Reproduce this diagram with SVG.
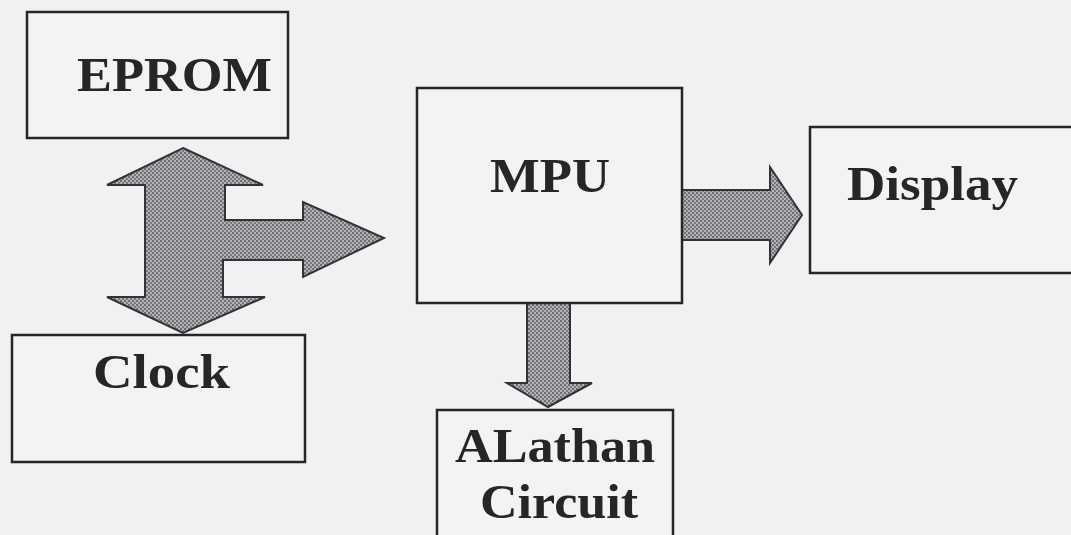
<svg xmlns="http://www.w3.org/2000/svg" width="1071" height="535" viewBox="0 0 1071 535">
<style>
.box{fill:#f4f2f4;stroke:#262626;stroke-width:2.5}
.lbl{font-family:"Liberation Serif","Times New Roman",serif;font-weight:bold;fill:#262626;font-size:48px}
.arr{fill:url(#ht);stroke:#333;stroke-width:2;stroke-linejoin:miter}
</style>
<defs>
<pattern id="ht" width="4" height="4" patternUnits="userSpaceOnUse">
<rect width="4" height="4" fill="#b4b2b6"/>
<rect x="0" y="0" width="2" height="2" fill="#6e6c70"/>
<rect x="2" y="2" width="2" height="2" fill="#7a787c"/>
</pattern>
</defs>
<rect width="1071" height="535" fill="#f2f0f2"/>
<g id="connectors">
<path class="arr" d="M183,148 L263,185 L225,185 L225,220 L303,220 L303,202 L384,238 L303,277 L303,260 L223,260 L223,297 L265,297 L183,333 L107,297 L145,297 L145,185 L107,185 Z"/>
<path class="arr" d="M682,190 L770,190 L770,167 L802,215 L770,263 L770,240 L682,240 Z"/>
<path class="arr" d="M527,303 L570,303 L570,383 L592,383 L548,407 L507,383 L527,383 Z"/>
</g>
<g id="eprom">
<rect class="box" x="27" y="12" width="261" height="126"/>
<text class="lbl" x="77" y="91" textLength="195" lengthAdjust="spacingAndGlyphs">EPROM</text>
</g>
<g id="clock">
<rect class="box" x="12" y="335" width="293" height="127"/>
<text class="lbl" x="93" y="388" textLength="137" lengthAdjust="spacingAndGlyphs">Clock</text>
</g>
<g id="mpu">
<rect class="box" x="417" y="88" width="265" height="215"/>
<text class="lbl" x="490" y="192" textLength="120" lengthAdjust="spacingAndGlyphs">MPU</text>
</g>
<g id="display">
<rect class="box" x="810" y="127" width="270" height="146"/>
<text class="lbl" x="847" y="200" textLength="171" lengthAdjust="spacingAndGlyphs">Display</text>
</g>
<g id="alathan">
<rect class="box" x="437" y="410" width="236" height="140"/>
<text class="lbl" x="455" y="462" textLength="200" lengthAdjust="spacingAndGlyphs">ALathan</text>
<text class="lbl" x="480" y="518" textLength="158" lengthAdjust="spacingAndGlyphs">Circuit</text>
</g>
</svg>
